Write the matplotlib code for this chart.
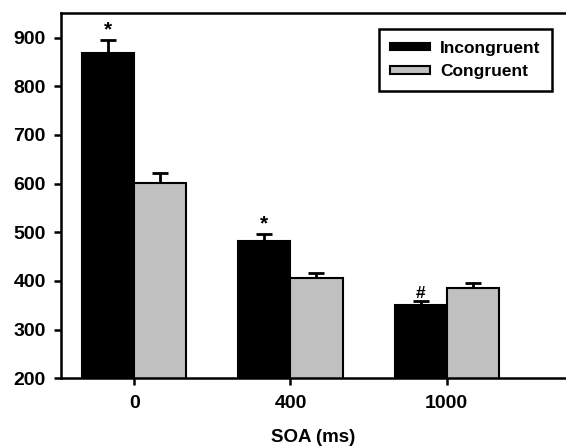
import matplotlib
matplotlib.use("Agg")
import matplotlib.pyplot as plt
import numpy as np

categories = ["0", "400", "1000"]
series = ["Incongruent", "Congruent"]
incongruent = [868, 482, 350]
incongruent_err = [28, 14, 8]
congruent = [602, 407, 385]
congruent_err = [19, 10, 11]
markers = ["*", "*", "#"]
yticks = [200, 300, 400, 500, 600, 700, 800, 900]

plt.rcParams['font.family'] = ['Liberation Sans', 'DejaVu Sans']
plt.rcParams['font.weight'] = 'bold'

W, H = 566, 448
fig = plt.figure(figsize=(W/100, H/100), dpi=100)
ax = fig.add_axes([61/W, 1 - 378.3/H, 1 - 61/W, (378.3 - 13.3)/H])

x = np.arange(len(categories))
w = 1/3
ekw = dict(elinewidth=2, capthick=2, ecolor='black')
ax.bar(x - w/2, incongruent, w, color='black', edgecolor='black',
       linewidth=1.5, label=series[0], zorder=2)
ax.bar(x + w/2, congruent, w, color='#c0c0c0', edgecolor='black',
       linewidth=1.5, label=series[1], zorder=2)
ax.errorbar(x - w/2, incongruent, yerr=[np.zeros(3), incongruent_err], fmt='none',
            capsize=5.8, zorder=1, **ekw)
ax.errorbar(x + w/2, congruent, yerr=[np.zeros(3), congruent_err], fmt='none',
            capsize=5.8, zorder=1, **ekw)
for xi, v, e, m in zip(x - w/2, incongruent, incongruent_err, markers):
    ax.text(xi, v + e + 1, m, ha='center', va='bottom',
            fontsize=15 if m == '*' else 12.5, fontweight='bold')

ax.set_ylim(200, 950)
ax.set_xlim(-0.47, 2.765)
ax.set_yticks(yticks)
ax.set_xticks(x)
ax.set_xticklabels(categories)
ax.tick_params(axis='both', labelsize=14, width=1.8, length=5, direction='out')
ax.tick_params(axis='x', pad=7)
ax.tick_params(axis='y', pad=6)
for lab in ax.get_xticklabels() + ax.get_yticklabels():
    lab.set_fontweight('bold')
for s in ['left', 'bottom', 'top']:
    ax.spines[s].set_linewidth(1.8)
ax.spines['right'].set_visible(False)
ax.set_xlabel("SOA (ms)", fontsize=13.5, fontweight='bold', labelpad=12)

leg = ax.legend(loc='upper right', bbox_to_anchor=(551.7/W, 1 - 29.3/H),
                bbox_transform=fig.transFigure, borderaxespad=0,
                fancybox=False, edgecolor='black',
                framealpha=1, prop={'weight': 'bold', 'size': 12.5},
                handlelength=2.3, handleheight=0.3, handletextpad=0.55,
                borderpad=0.65, labelspacing=0.5)
leg.get_frame().set_linewidth(1.8)

fig.savefig("out.png", dpi=100)
